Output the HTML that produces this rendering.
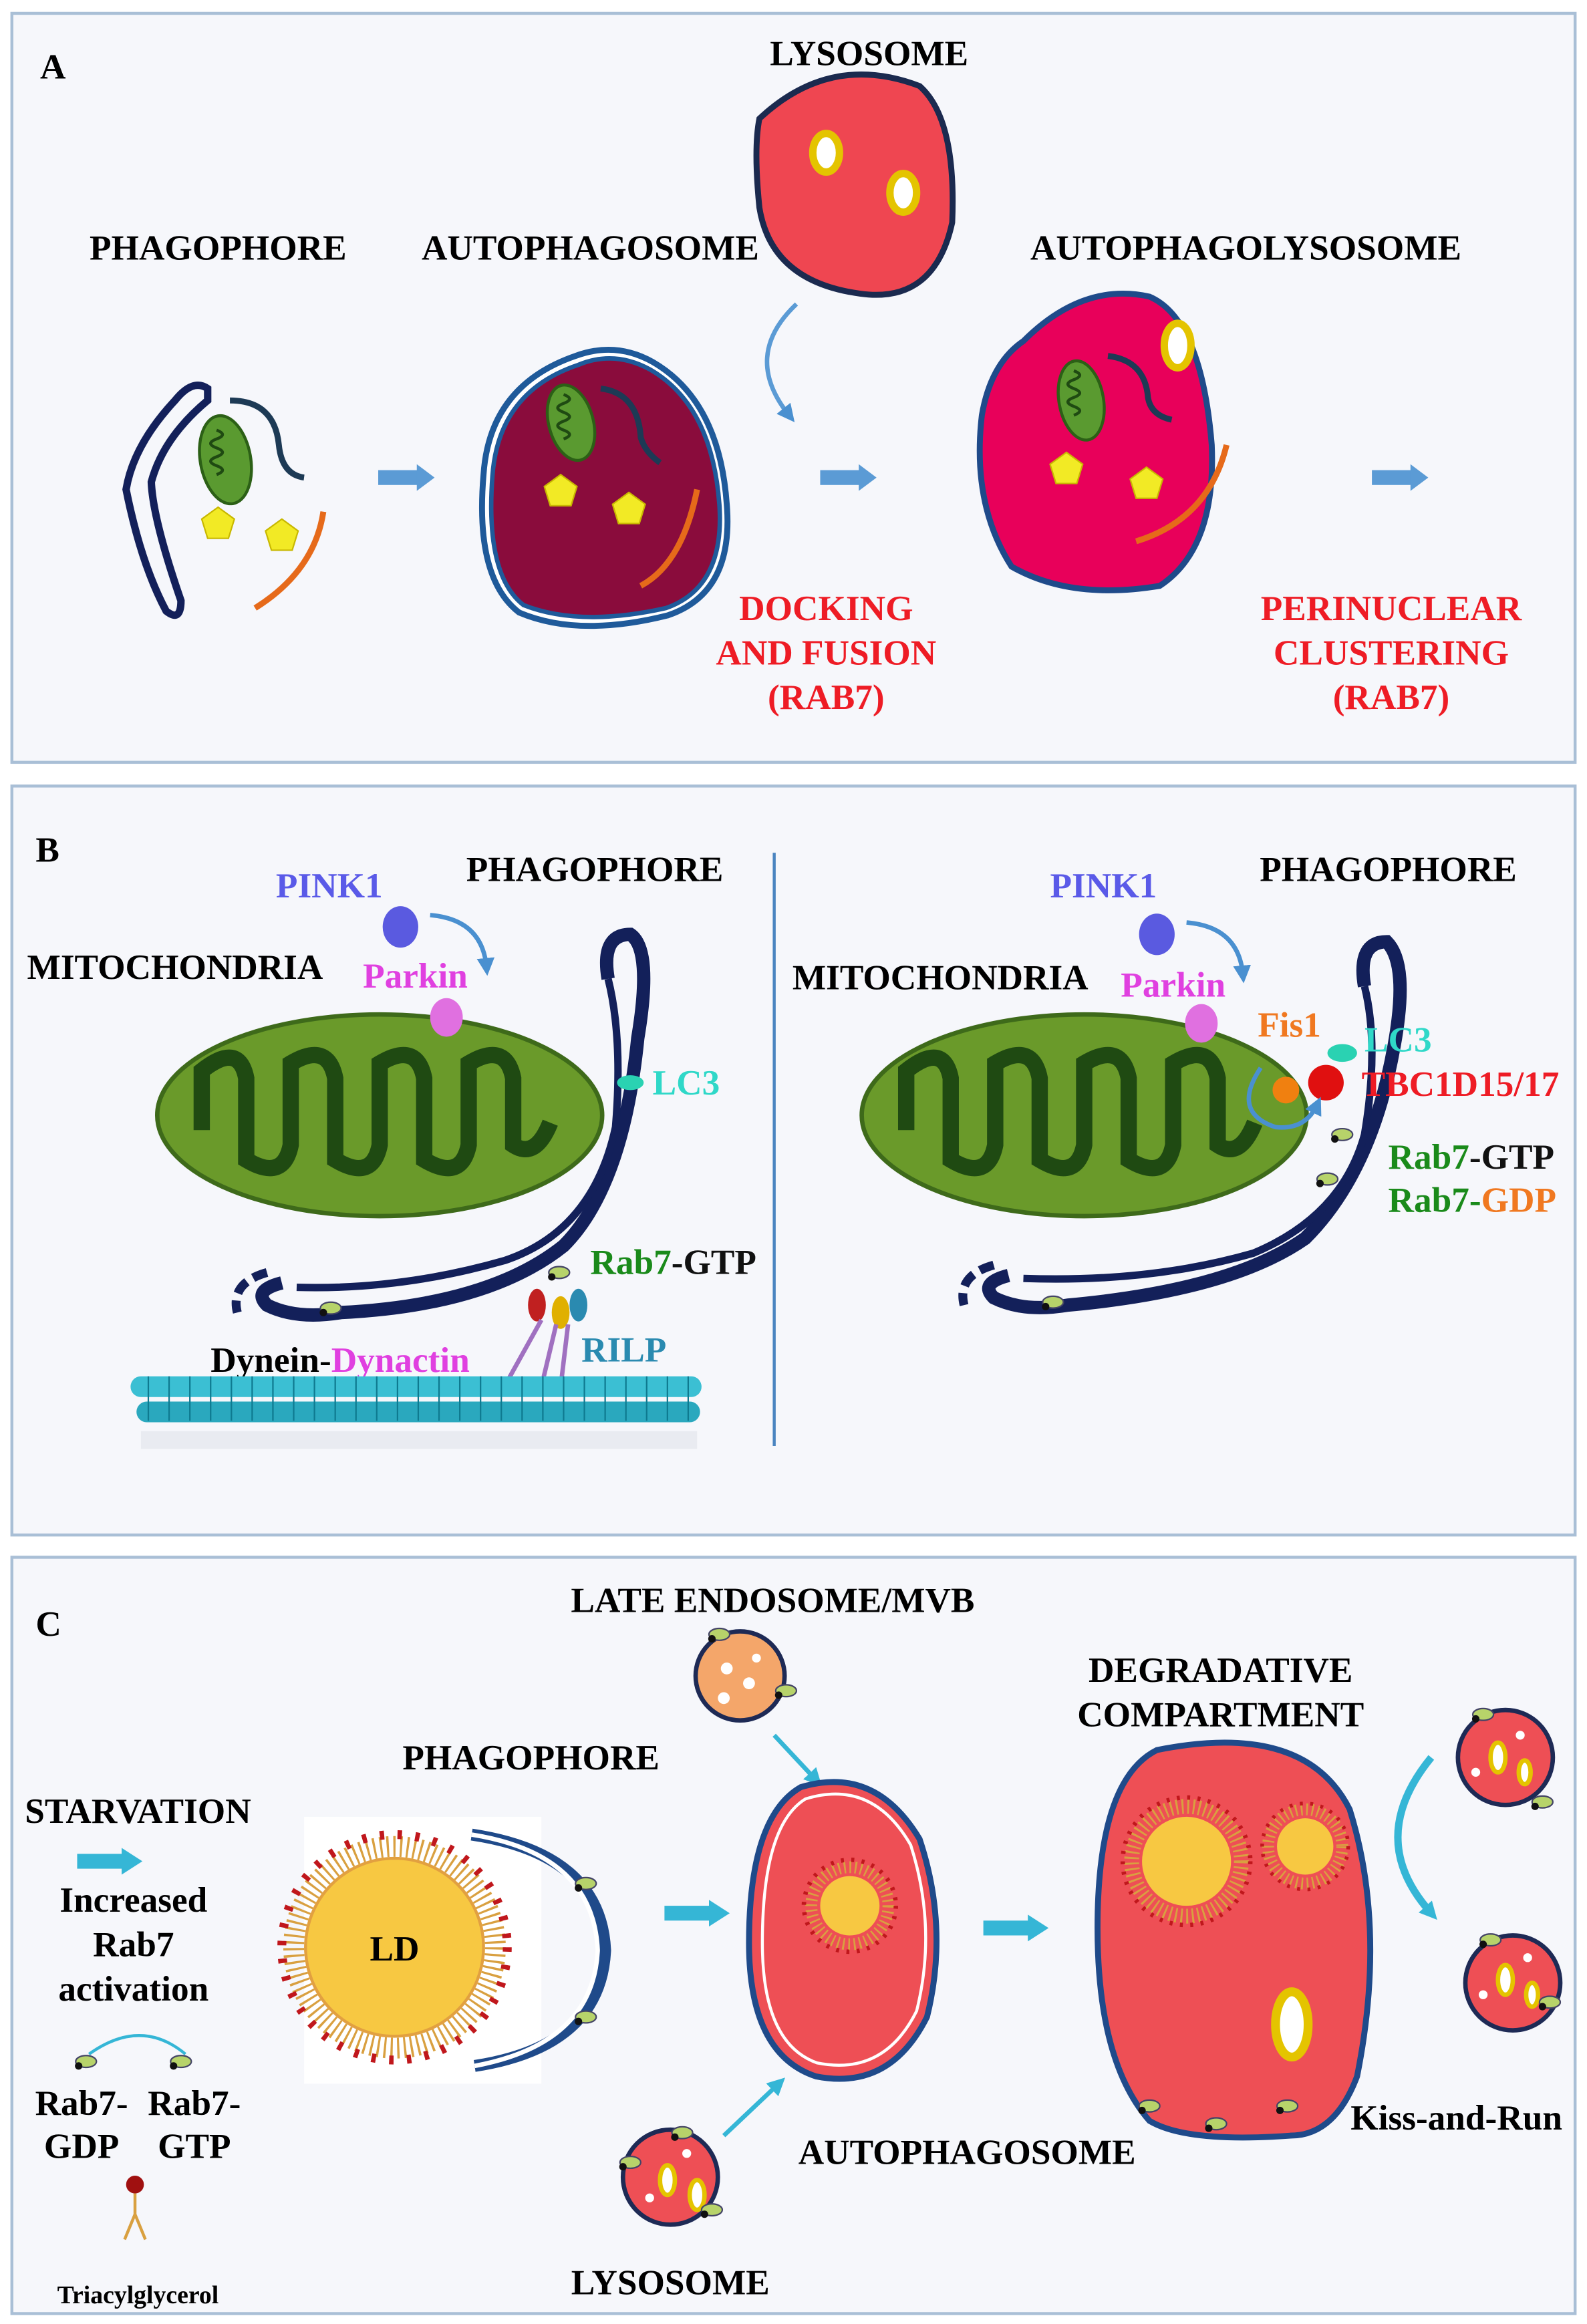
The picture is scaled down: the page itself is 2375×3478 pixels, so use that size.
<!DOCTYPE html>
<html><head><meta charset="utf-8"><style>
html,body{margin:0;padding:0;background:#fff}
svg{display:block}
text{font-family:"Liberation Serif",serif;font-weight:bold}
</style></head><body>
<svg width="2375" height="3478" viewBox="0 0 1070 1567" xmlns="http://www.w3.org/2000/svg">
<defs>
<marker id="ab" markerUnits="userSpaceOnUse" markerWidth="12" markerHeight="12" refX="6" refY="6" orient="auto"><path d="M0,0 L12,6 L0,12z" fill="#4a90d0"/></marker>
<marker id="cb" markerUnits="userSpaceOnUse" markerWidth="12" markerHeight="12" refX="6" refY="6" orient="auto"><path d="M0,0 L12,6 L0,12z" fill="#35b6d6"/></marker>
<g id="arr"><rect x="0" y="-5" width="28" height="10" fill="#5b9bd5"/><path d="M26,-9 L38,0 L26,9z" fill="#5b9bd5"/></g>
<g id="carr"><rect x="0" y="-5" width="32" height="10" fill="#35b6d6"/><path d="M30,-9 L44,0 L30,9z" fill="#35b6d6"/></g>
<g id="mito"><ellipse cx="0" cy="0" rx="150" ry="68" fill="#6a9a2a" stroke="#3e6a1a" stroke-width="3"/>
<path d="M-120,10 L-120,-30 Q-95,-50 -90,-25 L-90,30 Q-65,45 -60,20 L-60,-35 Q-35,-50 -30,-25 L-30,30 Q-5,45 0,20 L0,-35 Q25,-50 30,-25 L30,30 Q55,45 60,20 L60,-35 Q85,-50 90,-25 L90,20 Q105,30 115,5" fill="none" stroke="#1f4a12" stroke-width="11"/></g>
<g id="rab"><ellipse cx="0" cy="0" rx="7" ry="4" fill="#b7d36a" stroke="#446" stroke-width="1"/><circle cx="-5" cy="3" r="2.5" fill="#111"/></g>
</defs>

<!-- Panel A -->
<rect x="8" y="9" width="1054" height="505" fill="#f6f7fb" stroke="#a9bfd6" stroke-width="2"/>
<text x="27" y="53" font-size="24">A</text>
<text x="586" y="44" font-size="24" text-anchor="middle">LYSOSOME</text>
<text x="147" y="175" font-size="24" text-anchor="middle">PHAGOPHORE</text>
<text x="398" y="175" font-size="24" text-anchor="middle">AUTOPHAGOSOME</text>
<text x="840" y="175" font-size="24" text-anchor="middle">AUTOPHAGOLYSOSOME</text>
<!-- lysosome -->
<path d="M512,80 Q560,35 620,58 Q645,80 642,150 Q630,205 580,198 Q520,190 512,140 Q508,100 512,80z" fill="#ef4651" stroke="#1b2a4f" stroke-width="4"/>
<ellipse cx="557" cy="103" rx="9" ry="13" fill="#fff" stroke="#e4c400" stroke-width="5"/>
<ellipse cx="609" cy="130" rx="9" ry="13" fill="#fff" stroke="#e4c400" stroke-width="5"/>
<path d="M537,205 Q500,240 532,280" fill="none" stroke="#5b9bd5" stroke-width="3" marker-end="url(#ab)"/>
<!-- phagophore -->
<path d="M140,262 Q130,255 118,270 Q90,300 85,330 Q95,380 112,412 Q122,420 122,405 Q103,350 102,325 Q110,295 140,270z" fill="none" stroke="#13205a" stroke-width="5"/>
<ellipse cx="152" cy="310" rx="17" ry="30" fill="#5a9a30" stroke="#2c6016" stroke-width="2" transform="rotate(-10 152 310)"/>
<path d="M146,290 q8,3 0,6 q-8,3 0,6 q8,3 0,6 q-8,3 0,6 q8,3 0,6" fill="none" stroke="#1f4a12" stroke-width="2"/>
<path d="M155,270 Q185,270 188,300 Q190,320 205,322" fill="none" stroke="#1d3a55" stroke-width="4"/>
<polygon points="147,342 158,350 154,363 140,363 136,350" fill="#f2ea25" stroke="#c8b800"/>
<polygon points="190,350 201,358 197,371 183,371 179,358" fill="#f2ea25" stroke="#c8b800"/>
<path d="M218,345 Q212,385 172,410" fill="none" stroke="#e66a1a" stroke-width="4"/>
<use href="#arr" x="255" y="322"/>
<!-- autophagosome -->
<path d="M388,240 Q330,260 326,320 Q320,390 350,413 Q390,430 450,415 Q495,400 490,340 Q485,270 440,244 Q415,230 388,240z" fill="#fff" stroke="#1f5a9a" stroke-width="4"/>
<path d="M390,246 Q336,264 332,321 Q327,388 353,408 Q391,423 449,410 Q489,396 485,340 Q480,273 438,249 Q414,236 390,246z" fill="#8a0c3c" stroke="#1f5a9a" stroke-width="3"/>
<ellipse cx="385" cy="285" rx="15" ry="26" fill="#5a9a30" stroke="#2c6016" stroke-width="2" transform="rotate(-15 385 285)"/>
<path d="M380,266 q8,3 0,6 q-8,3 0,6 q8,3 0,6 q-8,3 0,6 q8,3 0,6" fill="none" stroke="#1f4a12" stroke-width="2"/>
<path d="M405,262 Q430,265 432,295 Q435,305 445,312" fill="none" stroke="#1d3a55" stroke-width="4"/>
<polygon points="378,320 389,328 385,341 371,341 367,328" fill="#f2ea25" stroke="#c8b800"/>
<polygon points="424,332 435,340 431,353 417,353 413,340" fill="#f2ea25" stroke="#c8b800"/>
<path d="M470,330 Q460,380 432,395" fill="none" stroke="#e66a1a" stroke-width="4"/>
<use href="#arr" x="553" y="322"/>
<!-- autophagolysosome -->
<path d="M690,230 Q730,190 775,200 Q810,215 817,300 Q820,370 782,395 Q722,405 682,382 Q655,340 662,280 Q668,245 690,230z" fill="#e8005a" stroke="#1f4a8a" stroke-width="4"/>
<ellipse cx="794" cy="233" rx="9" ry="15" fill="#fff" stroke="#e4c400" stroke-width="5"/>
<ellipse cx="729" cy="270" rx="15" ry="27" fill="#5a9a30" stroke="#2c6016" stroke-width="2" transform="rotate(-10 729 270)"/>
<path d="M724,250 q8,3 0,6 q-8,3 0,6 q8,3 0,6 q-8,3 0,6 q8,3 0,6" fill="none" stroke="#1f4a12" stroke-width="2"/>
<path d="M747,240 Q772,243 774,268 Q776,280 790,283" fill="none" stroke="#1d3a55" stroke-width="4"/>
<polygon points="719,305 730,313 726,326 712,326 708,313" fill="#f2ea25" stroke="#c8b800"/>
<polygon points="773,315 784,323 780,336 766,336 762,323" fill="#f2ea25" stroke="#c8b800"/>
<path d="M827,300 Q815,350 766,365" fill="none" stroke="#e66a1a" stroke-width="4"/>
<use href="#arr" x="925" y="322"/>
<g fill="#ee1c25" font-size="24" text-anchor="middle">
<text x="557" y="418">DOCKING</text><text x="557" y="448">AND FUSION</text><text x="557" y="478">(RAB7)</text>
<text x="938" y="418">PERINUCLEAR</text><text x="938" y="448">CLUSTERING</text><text x="938" y="478">(RAB7)</text></g>

<!-- Panel B -->
<rect x="8" y="530" width="1054" height="505" fill="#f6f7fb" stroke="#a9bfd6" stroke-width="2"/>
<text x="24" y="581" font-size="24">B</text>
<line x1="522" y1="575" x2="522" y2="975" stroke="#4a84c0" stroke-width="2"/>
<text x="222" y="605" font-size="24" fill="#5a5ae8" text-anchor="middle">PINK1</text>
<text x="401" y="594" font-size="24" text-anchor="middle">PHAGOPHORE</text>
<text x="118" y="660" font-size="24" text-anchor="middle">MITOCHONDRIA</text>
<text x="280" y="666" font-size="24" fill="#e040e0" text-anchor="middle">Parkin</text>
<ellipse cx="270" cy="625" rx="12" ry="14" fill="#5a5ae0"/>
<path d="M290,617 Q325,620 328,652" fill="none" stroke="#4a90d0" stroke-width="3" marker-end="url(#ab)"/>
<use href="#mito" x="256" y="752"/>
<ellipse cx="301" cy="686" rx="11" ry="13" fill="#e070e0"/>
<path d="M410,660 Q405,630 425,630 Q440,640 430,700 Q420,800 380,840 Q330,880 230,885 Q200,890 180,880 Q170,870 190,865" fill="none" stroke="#13205a" stroke-width="9"/>
<path d="M410,660 Q420,700 415,760 Q400,830 340,850 Q270,870 200,868" fill="none" stroke="#13205a" stroke-width="5"/>
<path d="M180,858 Q155,865 160,885" fill="none" stroke="#13205a" stroke-width="6" stroke-dasharray="10 5"/>
<ellipse cx="425" cy="730" rx="9" ry="5" fill="#2ad2b2"/>
<text x="440" y="738" font-size="24" fill="#2fd8c8">LC3</text>
<use href="#rab" x="223" y="882"/><use href="#rab" x="377" y="858"/>
<text x="398" y="859" font-size="24" fill="#1a8a1a">Rab7<tspan fill="#111">-GTP</tspan></text>
<ellipse cx="362" cy="880" rx="6" ry="11" fill="#c02020"/><ellipse cx="378" cy="885" rx="6" ry="11" fill="#e0b000"/><ellipse cx="390" cy="880" rx="6" ry="11" fill="#2a8ab0"/>
<path d="M365,890 L340,935 M375,893 L365,935 M383,893 L378,935" stroke="#a070c0" stroke-width="3"/>
<ellipse cx="337" cy="935" rx="9" ry="6" fill="#e020c0"/><circle cx="366" cy="935" r="6" fill="#c090d0"/><circle cx="380" cy="935" r="6" fill="#c090d0"/>
<text x="392" y="918" font-size="24" fill="#2a8ab0">RILP</text>
<text x="142" y="925" font-size="24">Dynein-<tspan fill="#e040e0">Dynactin</tspan></text>
<rect x="88" y="928" width="385" height="14" rx="7" fill="#3bbfd3"/>
<rect x="92" y="945" width="380" height="14" rx="7" fill="#2aa8be"/>
<g fill="none" stroke="#0e7a90" stroke-width="1">
<path d="M100,928 v30 M114,928 v30 M128,928 v30 M142,928 v30 M156,928 v30 M170,928 v30 M184,928 v30 M198,928 v30 M212,928 v30 M226,928 v30 M240,928 v30 M254,928 v30 M268,928 v30 M282,928 v30 M296,928 v30 M310,928 v30 M324,928 v30 M338,928 v30 M352,928 v30 M366,928 v30 M380,928 v30 M394,928 v30 M408,928 v30 M422,928 v30 M436,928 v30 M450,928 v30 M464,928 v30"/></g>
<rect x="95" y="965" width="375" height="12" fill="#e4e6ec" opacity="0.7"/>
<!-- B right -->
<text x="744" y="605" font-size="24" fill="#5a5ae8" text-anchor="middle">PINK1</text>
<text x="936" y="594" font-size="24" text-anchor="middle">PHAGOPHORE</text>
<text x="634" y="667" font-size="24" text-anchor="middle">MITOCHONDRIA</text>
<text x="791" y="672" font-size="24" fill="#e040e0" text-anchor="middle">Parkin</text>
<ellipse cx="780" cy="630" rx="12" ry="14" fill="#5a5ae0"/>
<path d="M800,622 Q835,625 838,657" fill="none" stroke="#4a90d0" stroke-width="3" marker-end="url(#ab)"/>
<use href="#mito" x="731" y="752"/>
<ellipse cx="810" cy="690" rx="11" ry="13" fill="#e070e0"/>
<path d="M920,665 Q915,635 935,635 Q950,650 940,705 Q925,790 880,835 Q830,870 720,880 Q690,885 670,875 Q660,865 680,860" fill="none" stroke="#13205a" stroke-width="9"/>
<path d="M920,665 Q930,705 920,765 Q905,820 845,845 Q775,865 690,862" fill="none" stroke="#13205a" stroke-width="5"/>
<path d="M670,853 Q645,860 650,880" fill="none" stroke="#13205a" stroke-width="6" stroke-dasharray="10 5"/>
<text x="848" y="699" font-size="24" fill="#f07820">Fis1</text>
<text x="920" y="709" font-size="24" fill="#2fd8c8">LC3</text>
<ellipse cx="905" cy="710" rx="10" ry="6" fill="#2ad2b2"/>
<circle cx="894" cy="730" r="12" fill="#e01010"/>
<circle cx="867" cy="735" r="9" fill="#f08010"/>
<text x="918" y="739" font-size="24" fill="#ee1c25">TBC1D15/17</text>
<path d="M850,720 Q830,750 860,760 Q880,762 888,745" fill="none" stroke="#4a90d0" stroke-width="3" marker-end="url(#ab)"/>
<use href="#rab" x="905" y="765"/><use href="#rab" x="895" y="795"/><use href="#rab" x="710" y="878"/>
<text x="936" y="788" font-size="24" fill="#1a8a1a">Rab7<tspan fill="#111">-GTP</tspan></text>
<text x="936" y="817" font-size="24" fill="#1a8a1a">Rab7-<tspan fill="#f07820">GDP</tspan></text>

<!-- Panel C -->
<rect x="8" y="1050" width="1054" height="510" fill="#f6f7fb" stroke="#a9bfd6" stroke-width="2"/>
<text x="24" y="1103" font-size="24">C</text>
<text x="521" y="1087" font-size="24" text-anchor="middle">LATE ENDOSOME/MVB</text>
<text x="358" y="1193" font-size="24" text-anchor="middle">PHAGOPHORE</text>
<text x="823" y="1134" font-size="24" text-anchor="middle">DEGRADATIVE</text>
<text x="823" y="1164" font-size="24" text-anchor="middle">COMPARTMENT</text>
<text x="93" y="1229" font-size="24" text-anchor="middle">STARVATION</text>
<use href="#carr" x="52" y="1255"/>
<g font-size="24" text-anchor="middle"><text x="90" y="1289">Increased</text><text x="90" y="1319">Rab7</text><text x="90" y="1349">activation</text>
<text x="55" y="1426">Rab7-</text><text x="55" y="1455">GDP</text><text x="131" y="1426">Rab7-</text><text x="131" y="1455">GTP</text></g>
<path d="M60,1385 Q95,1360 125,1385" fill="none" stroke="#35b6d6" stroke-width="2"/>
<use href="#rab" x="58" y="1390"/><use href="#rab" x="122" y="1390"/>
<circle cx="91" cy="1473" r="6" fill="#a01010"/>
<path d="M91,1479 V1493 L84,1510 M91,1493 L98,1510" stroke="#d9a040" stroke-width="2" fill="none"/>
<text x="93" y="1553" font-size="17" text-anchor="middle">Triacylglycerol</text>
<rect x="205" y="1225" width="160" height="180" fill="#fff"/>
<circle cx="266" cy="1313" r="60" fill="#f7c842" stroke="#e2a040" stroke-width="2"/>
<circle cx="266" cy="1313" r="68" fill="none" stroke="#d9a040" stroke-width="14" stroke-dasharray="1.5 3"/>
<circle cx="266" cy="1313" r="76" fill="none" stroke="#c0171c" stroke-width="6" stroke-dasharray="3 9"/>
<text x="266" y="1322" font-size="24" text-anchor="middle">LD</text>
<path d="M318,1237 Q405,1250 408,1315 Q405,1380 320,1393" fill="none" stroke="#1f4a8a" stroke-width="8"/>
<path d="M318,1237 Q400,1250 403,1315 Q400,1378 320,1393" fill="none" stroke="#fff" stroke-width="3"/>
<use href="#rab" x="395" y="1270"/><use href="#rab" x="395" y="1360"/>
<use href="#carr" x="448" y="1290"/>
<circle cx="499" cy="1130" r="30" fill="#f4a66a" stroke="#1e2a55" stroke-width="3"/>
<circle cx="490" cy="1125" r="4" fill="#fff"/><circle cx="505" cy="1135" r="4" fill="#fff"/><circle cx="488" cy="1145" r="4" fill="#fff"/><circle cx="510" cy="1118" r="3" fill="#fff"/>
<use href="#rab" x="485" y="1102"/><use href="#rab" x="530" y="1140"/>
<line x1="522" y1="1170" x2="550" y2="1200" stroke="#35b6d6" stroke-width="3" marker-end="url(#cb)"/>
<path d="M540,1205 Q590,1190 620,1240 Q640,1300 625,1360 Q600,1410 550,1400 Q505,1385 505,1310 Q505,1225 540,1205z" fill="#ee4f55" stroke="#1f4a8a" stroke-width="4"/>
<path d="M543,1213 Q588,1199 614,1244 Q632,1300 618,1356 Q596,1400 551,1391 Q514,1378 514,1310 Q514,1231 543,1213z" fill="none" stroke="#fff" stroke-width="2"/>
<circle cx="573" cy="1285" r="20" fill="#f7c842"/>
<circle cx="573" cy="1285" r="26" fill="none" stroke="#d9a040" stroke-width="8" stroke-dasharray="1.2 2.5"/>
<circle cx="573" cy="1285" r="31" fill="none" stroke="#c0171c" stroke-width="3" stroke-dasharray="2 5"/>
<text x="652" y="1459" font-size="24" text-anchor="middle">AUTOPHAGOSOME</text>
<use href="#carr" x="663" y="1300"/>
<circle cx="452" cy="1468" r="32" fill="#ee4f55" stroke="#1e2a55" stroke-width="3"/>
<ellipse cx="450" cy="1470" rx="5" ry="10" fill="#fff" stroke="#e4c400" stroke-width="3"/>
<ellipse cx="470" cy="1480" rx="5" ry="10" fill="#fff" stroke="#e4c400" stroke-width="3"/>
<circle cx="438" cy="1482" r="3" fill="#fff"/><circle cx="463" cy="1452" r="3" fill="#fff"/>
<use href="#rab" x="460" y="1438"/><use href="#rab" x="425" y="1458"/><use href="#rab" x="480" y="1490"/>
<line x1="488" y1="1440" x2="525" y2="1405" stroke="#35b6d6" stroke-width="3" marker-end="url(#cb)"/>
<text x="452" y="1547" font-size="24" text-anchor="middle">LYSOSOME</text>
<path d="M780,1180 Q880,1160 910,1220 Q935,1300 915,1400 Q900,1440 870,1440 Q800,1445 775,1430 Q740,1390 740,1300 Q740,1200 780,1180z" fill="#ee4f55" stroke="#1f4a8a" stroke-width="4"/>
<circle cx="800" cy="1255" r="30" fill="#f7c842"/>
<circle cx="800" cy="1255" r="37" fill="none" stroke="#d9a040" stroke-width="10" stroke-dasharray="1.3 2.5"/>
<circle cx="800" cy="1255" r="43" fill="none" stroke="#c0171c" stroke-width="3" stroke-dasharray="2 5"/>
<circle cx="880" cy="1245" r="19" fill="#f7c842"/>
<circle cx="880" cy="1245" r="25" fill="none" stroke="#d9a040" stroke-width="8" stroke-dasharray="1.2 2.5"/>
<circle cx="880" cy="1245" r="29" fill="none" stroke="#c0171c" stroke-width="2.5" stroke-dasharray="2 5"/>
<ellipse cx="871" cy="1365" rx="11" ry="22" fill="#fff" stroke="#e4c400" stroke-width="6"/>
<use href="#rab" x="775" y="1420"/><use href="#rab" x="820" y="1432"/><use href="#rab" x="868" y="1420"/>
<path d="M965,1185 Q920,1240 965,1290" fill="none" stroke="#35b6d6" stroke-width="5" marker-end="url(#cb)"/>
<circle cx="1015" cy="1185" r="32" fill="#ee4f55" stroke="#1e2a55" stroke-width="3"/>
<ellipse cx="1010" cy="1185" rx="5" ry="10" fill="#fff" stroke="#e4c400" stroke-width="3"/><ellipse cx="1028" cy="1195" rx="4" ry="8" fill="#fff" stroke="#e4c400" stroke-width="3"/><circle cx="995" cy="1195" r="3" fill="#fff"/><circle cx="1025" cy="1170" r="3" fill="#fff"/>
<use href="#rab" x="1000" y="1156"/><use href="#rab" x="1040" y="1215"/>
<circle cx="1020" cy="1337" r="32" fill="#ee4f55" stroke="#1e2a55" stroke-width="3"/>
<ellipse cx="1015" cy="1335" rx="5" ry="10" fill="#fff" stroke="#e4c400" stroke-width="3"/><ellipse cx="1033" cy="1345" rx="4" ry="8" fill="#fff" stroke="#e4c400" stroke-width="3"/><circle cx="1000" cy="1345" r="3" fill="#fff"/><circle cx="1030" cy="1320" r="3" fill="#fff"/>
<use href="#rab" x="1005" y="1308"/><use href="#rab" x="1045" y="1350"/>
<text x="982" y="1436" font-size="24" text-anchor="middle">Kiss-and-Run</text>
</svg>
</body></html>
